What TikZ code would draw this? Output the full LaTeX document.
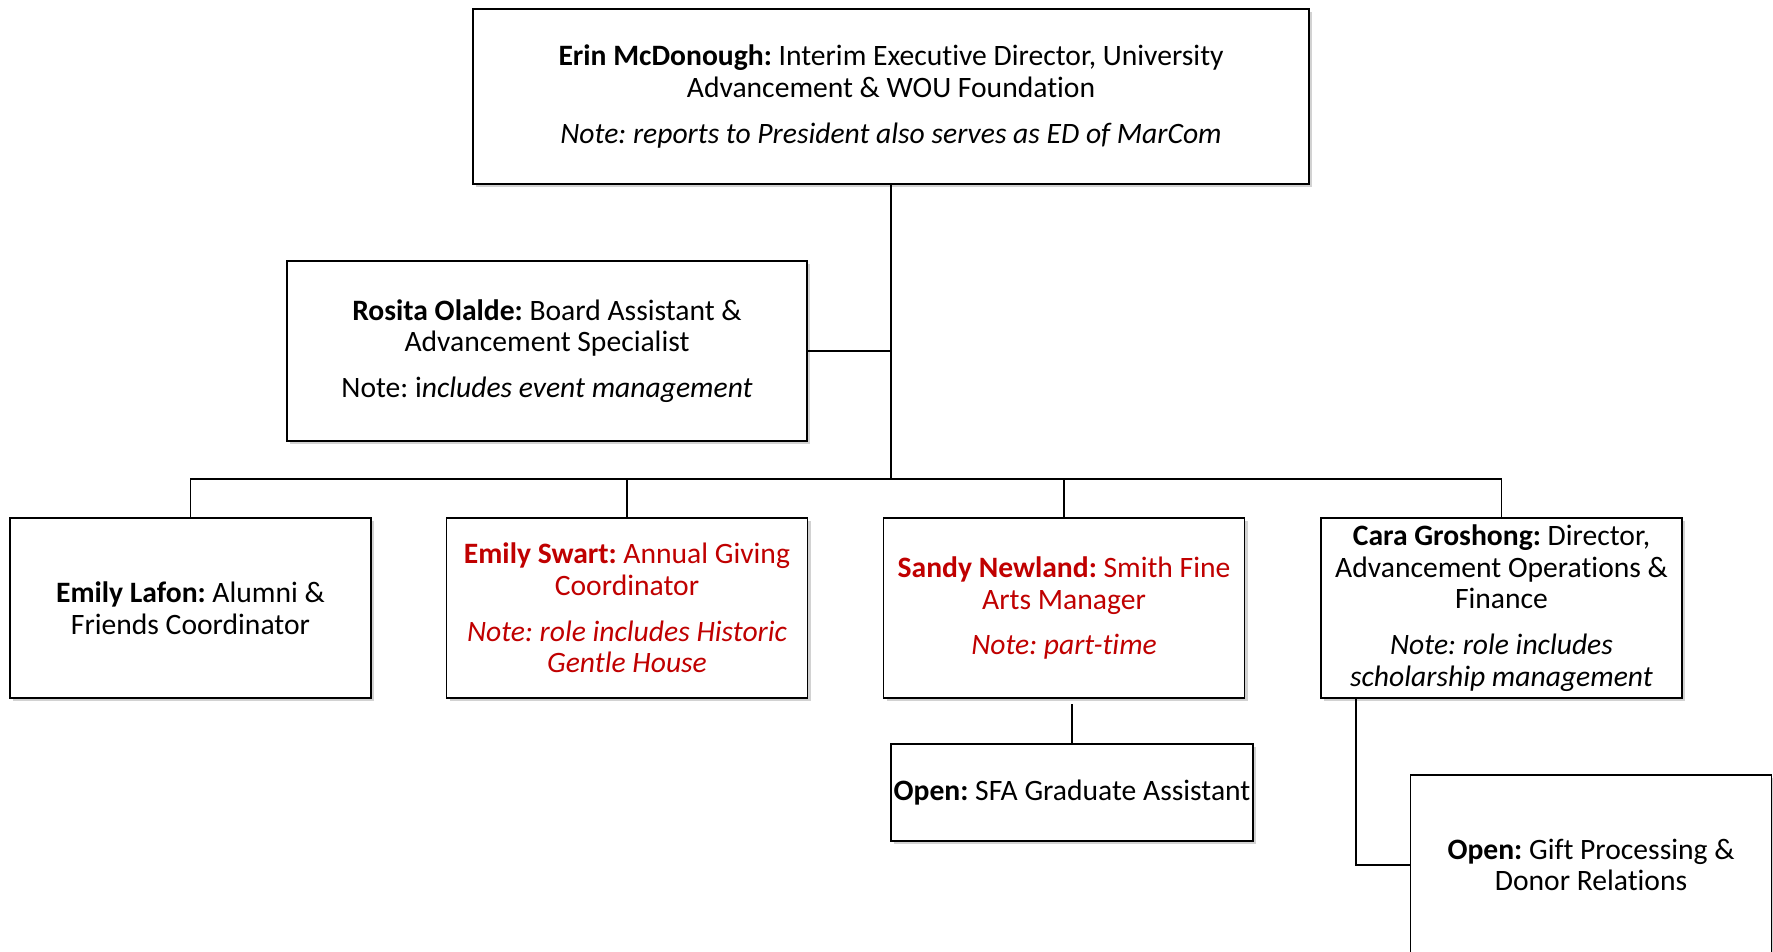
\documentclass[tikz,border=0pt]{standalone}
\usepackage{fontspec}
\setmainfont{Carlito}[Ligatures=NoCommon]
\usetikzlibrary{shadows}
\definecolor{wred}{RGB}{192,0,0}
\frenchspacing
\tikzset{
  box/.style={draw=black, line width=1.3pt, fill=white, align=center, inner sep=2pt,
    drop shadow={shadow xshift=2.5pt, shadow yshift=-2.5pt, opacity=0.35},
    font=\fontsize{22.2}{23.8}\selectfont},
  bw/.style={minimum width=270.75pt, minimum height=135pt},
  redtext/.style={text=wred},
  conn/.style={draw=black, line width=1pt},
  trunk/.style={draw=black, line width=1.6pt}
}
\begin{document}
\begin{tikzpicture}[x=0.75pt,y=-0.75pt]
\clip (0,0) rectangle (1773,952);
\fill[white] (0,0) rectangle (1773,952);

\node[box, minimum width=627pt, minimum height=131.25pt] (top) at (891,96.5)
  {\textbf{Erin McDonough:} Interim Executive Director, University\\
   Advancement \& WOU Foundation\\[10.5pt]
   \textit{Note: reports to President also serves as ED of MarCom}};

\node[box, minimum width=390pt, minimum height=135pt] (ros) at (547,351)
  {\textbf{Rosita Olalde:} Board Assistant \&\\
   Advancement Specialist\\[10.5pt]
   Note: i\textit{ncludes event management}};

\node[box, bw] (b1) at (190.5,608)
  {\textbf{Emily Lafon:} Alumni \&\\ Friends Coordinator};

\node[box, bw, redtext] (b2) at (627,608)
  {\textbf{Emily Swart:} Annual Giving\\ Coordinator\\[10.5pt]
   \textit{Note: role includes Historic}\\ \textit{Gentle House}};

\node[box, bw, redtext] (b3) at (1064,608)
  {\textbf{Sandy Newland:} Smith Fine\\ Arts Manager\\[10.5pt]
   \textit{Note: part-time}};

\node[box, bw] (b4) at (1501.5,608)
  {\textbf{Cara Groshong:} Director,\\ Advancement Operations \&\\ Finance\\[10.5pt]
   \textit{Note: role includes}\\ \textit{scholarship management}};

\node[box, minimum width=271.5pt, minimum height=72.75pt] (sfa) at (1072,792.5)
  {\textbf{Open:} SFA Graduate Assistant};

\node[box, bw] (gift) at (1591,865)
  {\textbf{Open:} Gift Processing \&\\ Donor Relations};

\coordinate (hub) at (891,479);

\draw[trunk] (top.south) -- (hub);
\draw[conn] (ros.east) -- (ros.east -| hub);
\draw[conn] (b1.north) |- (hub) -| (b4.north);
\draw[trunk] (b2.north |- hub) -- (b3.north |- hub);
\draw[conn] (b2.north) -- (b2.north |- hub);
\draw[conn] (b3.north) -- (b3.north |- hub);
\draw[conn] (sfa.north) -- ++(0,-39);
\draw[conn] (b4.south west) ++(36,0) |- (gift.west);
\end{tikzpicture}
\end{document}
